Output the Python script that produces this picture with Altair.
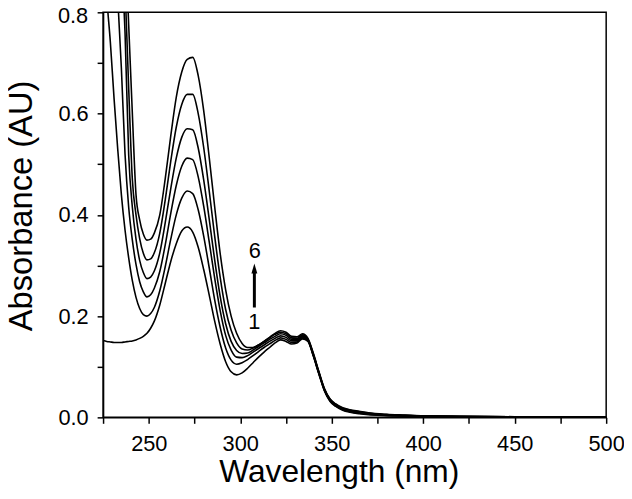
import altair as alt
import pandas as pd

wavelength = [225, 227, 229, 231, 233, 235, 237, 239, 241, 243, 245, 247, 249,
              251, 253, 256, 259, 262, 265, 268, 271,
              274, 277, 280, 283, 286, 289, 292, 295, 298,
              301, 304, 307, 310, 313, 316, 319, 322,
              325, 328, 331, 334, 337, 340, 343, 346, 349, 352,
              356, 360, 365, 370, 380, 390, 400, 420, 450, 500]

abs_1 = [0.152, 0.150, 0.149, 0.148, 0.148, 0.148, 0.149, 0.150, 0.151, 0.153, 0.156, 0.160, 0.166,
         0.176, 0.190, 0.222, 0.265, 0.308, 0.343, 0.368, 0.376,
         0.366, 0.336, 0.292, 0.242, 0.190, 0.145, 0.110, 0.090, 0.084,
         0.088, 0.097, 0.108, 0.119, 0.129, 0.138, 0.147, 0.153,
         0.150, 0.145, 0.147, 0.155, 0.150, 0.120, 0.085, 0.052, 0.032, 0.022,
         0.014, 0.010, 0.007, 0.005, 0.0035, 0.0025, 0.002, 0.0012, 0.0008, 0.0003]

abs_2 = [0.95, 0.83, 0.74, 0.63, 0.53, 0.44, 0.37, 0.315, 0.27, 0.237, 0.215, 0.203, 0.200,
         0.205, 0.217, 0.250, 0.298, 0.352, 0.400, 0.433, 0.447,
         0.442, 0.410, 0.358, 0.296, 0.232, 0.178, 0.137, 0.113, 0.105,
         0.108, 0.114, 0.122, 0.130, 0.138, 0.145, 0.152, 0.157,
         0.154, 0.148, 0.149, 0.157, 0.151, 0.121, 0.086, 0.053, 0.033, 0.023,
         0.015, 0.011, 0.008, 0.006, 0.004, 0.003, 0.0022, 0.0014, 0.0009, 0.0004]

abs_3 = [1.30, 1.17, 1.05, 0.94, 0.83, 0.69, 0.52, 0.415, 0.350, 0.302, 0.268, 0.248, 0.238,
         0.242, 0.255, 0.288, 0.341, 0.403, 0.458, 0.496, 0.512,
         0.509, 0.475, 0.417, 0.347, 0.275, 0.211, 0.162, 0.133, 0.119,
         0.118, 0.122, 0.129, 0.136, 0.143, 0.150, 0.156, 0.161,
         0.158, 0.151, 0.151, 0.159, 0.152, 0.122, 0.087, 0.054, 0.034, 0.024,
         0.016, 0.012, 0.009, 0.007, 0.0045, 0.0033, 0.0024, 0.0015, 0.001, 0.0005]

abs_4 = [1.50, 1.38, 1.26, 1.14, 1.02, 0.90, 0.76, 0.518, 0.415, 0.352, 0.310, 0.286, 0.274,
         0.277, 0.289, 0.325, 0.385, 0.452, 0.512, 0.553, 0.570,
         0.568, 0.532, 0.469, 0.392, 0.311, 0.239, 0.185, 0.150, 0.132,
         0.126, 0.127, 0.133, 0.140, 0.147, 0.154, 0.160, 0.165,
         0.162, 0.154, 0.153, 0.161, 0.153, 0.123, 0.088, 0.055, 0.035, 0.025,
         0.017, 0.013, 0.010, 0.0075, 0.005, 0.0036, 0.0026, 0.0016, 0.0011, 0.0006]

abs_5 = [1.60, 1.50, 1.40, 1.28, 1.12, 0.99, 0.85, 0.65, 0.470, 0.400, 0.353, 0.324, 0.311,
         0.313, 0.325, 0.364, 0.430, 0.506, 0.573, 0.618, 0.638,
         0.638, 0.600, 0.533, 0.448, 0.358, 0.277, 0.213, 0.172, 0.147,
         0.135, 0.133, 0.137, 0.143, 0.150, 0.157, 0.164, 0.168,
         0.165, 0.157, 0.156, 0.163, 0.154, 0.124, 0.089, 0.056, 0.036, 0.026,
         0.018, 0.014, 0.011, 0.008, 0.0055, 0.004, 0.0028, 0.0018, 0.0012, 0.0007]

abs_6 = [1.70, 1.60, 1.50, 1.38, 1.24, 1.10, 0.95, 0.775, 0.600, 0.440, 0.390, 0.362, 0.350,
         0.352, 0.364, 0.400, 0.472, 0.556, 0.632, 0.682, 0.707,
         0.711, 0.675, 0.606, 0.514, 0.416, 0.324, 0.252, 0.200, 0.166,
         0.146, 0.138, 0.138, 0.143, 0.150, 0.158, 0.166, 0.171,
         0.168, 0.160, 0.159, 0.165, 0.156, 0.126, 0.090, 0.057, 0.037, 0.027,
         0.019, 0.015, 0.012, 0.009, 0.006, 0.0045, 0.003, 0.002, 0.0013, 0.0008]

series = {"1": abs_1, "2": abs_2, "3": abs_3, "4": abs_4, "5": abs_5, "6": abs_6}

x_ticks = [225, 250, 275, 300, 325, 350, 375, 400, 425, 450, 475, 500]
y_ticks = [0.0, 0.1, 0.2, 0.3, 0.4, 0.5, 0.6, 0.7, 0.8]

# top y label drawn separately so that it stays inside the picture
top_label = ["0.8"]
top_label_nm = [225]
top_label_abs = [0.8]

annot_text = ["6", "1"]
annot_nm = [308.0, 307.7]
annot_abs = [0.329, 0.188]

arrow_nm = [307.7]
arrow_from = [0.217]
arrow_to = [0.290]
arrow_head = [0.294]

rows = []
for name, vals in series.items():
    for w, a in zip(wavelength, vals):
        rows.append({"nm": w, "abs": a, "curve": name})
df = pd.DataFrame(rows)

df_text = pd.DataFrame({"nm": annot_nm, "abs": annot_abs, "t": annot_text})
df_arrow = pd.DataFrame({"nm": arrow_nm, "abs": arrow_from, "abs2": arrow_to})
df_head = pd.DataFrame({"nm": arrow_nm, "abs": arrow_head})
df_top = pd.DataFrame({"nm": top_label_nm, "abs": top_label_abs, "t": top_label})

FONT = "Liberation Sans"

x_scale = alt.Scale(domain=[225, 500], nice=False, zero=False)
y_scale = alt.Scale(domain=[0, 0.8], nice=False, zero=False)

x_axis = alt.Axis(
    values=x_ticks,
    labelExpr="datum.value % 50 == 0 ? datum.label : ''",
    title="Wavelength (nm)",
    titleX=238, titleY=65, titleBaseline="alphabetic", titleAlign="center",
    titleFontSize=32,
    labelBaseline="alphabetic", labelPadding=27, labelFlush=False,
    tickSize=6, grid=False,
)
y_axis = alt.Axis(
    values=y_ticks,
    format=".1f",
    labelExpr="(round(datum.value * 10) % 2 == 0 && datum.value < 0.75) ? datum.label : ''",
    title="Absorbance (AU)",
    titleX=-72, titleY=195, titleBaseline="alphabetic", titleAlign="center",
    titleFontSize=33,
    labelPadding=9, labelFlush=False, tickSize=6, grid=False,
)

def xe():
    return alt.X("nm:Q", scale=x_scale, axis=x_axis)

def ye():
    return alt.Y("abs:Q", scale=y_scale, axis=y_axis)

lines = alt.Chart(df).mark_line(
    color="black", strokeWidth=1.6, clip=True, interpolate="monotone"
).encode(x=xe(), y=ye(), detail="curve:N")

labels = alt.Chart(df_text).mark_text(
    font=FONT, fontSize=22, color="black", baseline="middle", align="center"
).encode(x=xe(), y=ye(), text="t:N")

top_lab = alt.Chart(df_top).mark_text(
    font=FONT, fontSize=22, color="black", baseline="middle", align="right",
    dx=-15, dy=4
).encode(x=xe(), y=ye(), text="t:N")

shaft = alt.Chart(df_arrow).mark_rule(color="black", strokeWidth=3).encode(
    x=xe(), y=ye(), y2="abs2:Q"
)

head = alt.Chart(df_head).mark_point(
    shape="M-0.6,1 L0,-1 L0.6,1 Z", filled=True, size=100, color="black", opacity=1
).encode(x=xe(), y=ye())

chart = alt.layer(lines, shaft, head, labels, top_lab).properties(
    width=508, height=409,
    autosize=alt.AutoSizeParams(type="none"),
    padding={"left": 96, "top": 2, "right": 18, "bottom": 72},
).configure_view(
    stroke="black", strokeWidth=1.5
).configure_axis(
    domainColor="black", domainWidth=1.5, tickColor="black", tickWidth=1.5,
    labelColor="black", labelFont=FONT, labelFontSize=22,
    titleColor="black", titleFont=FONT, titleFontWeight="normal",
)

chart.save("out.html", embed_options={"renderer": "svg", "actions": False})
